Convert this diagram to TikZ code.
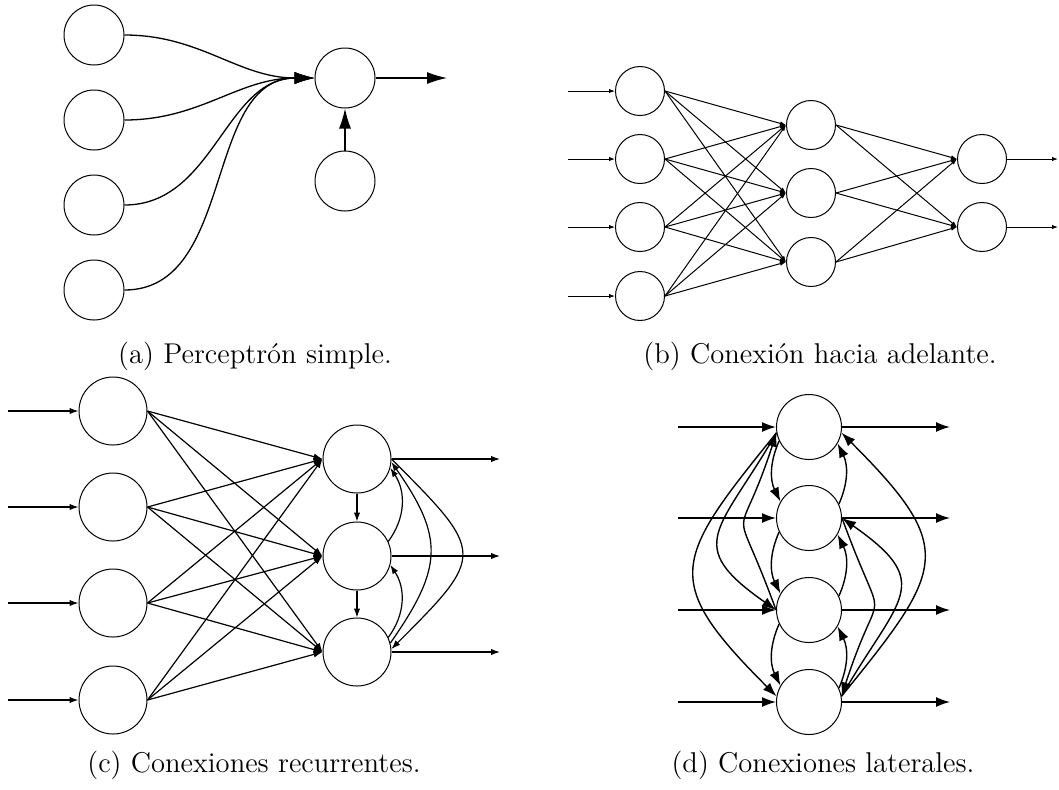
\documentclass[tikz,border=0pt]{standalone}
\usepackage{tikz}
\usetikzlibrary{arrows.meta}

\begin{document}
\begin{tikzpicture}[x=0.5pt, y=-0.5pt,
    neuron/.style={circle, draw, line width=0.5pt, inner sep=0pt, minimum size=#1},
    subcap/.style={font=\fontsize{14.3}{17}\selectfont, inner sep=0pt}]
  \useasboundingbox (0,0) rectangle (1059,789);

  % (a) Perceptron simple
  \begin{scope}[line width=0.65pt, >={Latex[length=10pt,width=6pt]}]
    \foreach \y [count=\i] in {35,120,205,290}
      \node[neuron=30pt] (a\i) at (94,\y) {};
    \node[neuron=30pt] (an) at (345,78) {};
    \node[neuron=30pt] (ab) at (345,181) {};
    \foreach \i in {1,...,4}
      \draw[->] (a\i.east) to[out=0, in=180] (an.west);
    \draw[->] (ab.north) -- (an.south);
    \coordinate (aout) at (447,78);
    \draw[->] (an.east) -- (aout);
  \end{scope}
  \node[subcap] (capa) at (255,356) {(a) Perceptrón simple.};

  % (b) Conexion hacia adelante
  \begin{scope}[line width=0.5pt, >={Latex[length=3pt,width=2.2pt]}]
    \foreach \y [count=\i] in {91,159,227,296} {
      \node[neuron=24.5pt] (bi\i) at (640,\y) {};
      \coordinate (bin\i) at (568,\y);
      \draw[->] (bin\i) -- (bi\i.west);
    }
    \foreach \y [count=\j] in {125,193,262}
      \node[neuron=24.5pt] (bh\j) at (811,\y) {};
    \foreach \y [count=\k] in {159,227} {
      \node[neuron=24.5pt] (bo\k) at (982,\y) {};
      \coordinate (bout\k) at (1058,\y);
      \draw[->] (bo\k.east) -- (bout\k);
    }
    \foreach \i in {1,...,4}
      \foreach \j in {1,2,3}
        \draw[->] (bi\i.east) -- (bh\j.west);
    \foreach \j in {1,2,3}
      \foreach \k in {1,2}
        \draw[->] (bh\j.east) -- (bo\k.west);
  \end{scope}
  \node[subcap] (capb) at (820,356) {(b) Conexión hacia adelante.};

  % (c) Conexiones recurrentes
  \begin{scope}[line width=0.6pt, >={Latex[length=4.5pt,width=3.2pt]}]
    \foreach \y [count=\i] in {411,507,603,700} {
      \node[neuron=34pt] (ci\i) at (113,\y) {};
      \coordinate (cin\i) at (8,\y);
      \draw[->] (cin\i) -- (ci\i.west);
    }
    \foreach \y [count=\j] in {459,556,652} {
      \node[neuron=34pt] (co\j) at (357,\y) {};
      \coordinate (cout\j) at (500,\y);
      \draw[->] (co\j.east) -- (cout\j);
    }
    \foreach \i in {1,...,4}
      \foreach \j in {1,2,3}
        \draw[->] (ci\i.east) -- (co\j.west);
    % recurrent links
    \draw[->] (co1.south) -- (co2.north);
    \draw[->] (co2.south) -- (co3.north);
    \draw[->] (co2.25) to[bend right=35] (co1.-15);
    \draw[->] (co3.25) to[bend right=35] (co2.-15);
    \draw[->] (co3.15) to[out=55, in=-55, looseness=1.3] (co1.-5);
    \draw[->] (co1.0) to[out=-45, in=45, looseness=1.8] (co3.5);
  \end{scope}
  \node[subcap] (capc) at (254,765) {(c) Conexiones recurrentes.};

  % (d) Conexiones laterales
  \begin{scope}[line width=0.7pt, >={Latex[length=7pt,width=5pt]}]
    \foreach \y [count=\i] in {427,518,610,702} {
      \node[neuron=32.5pt] (d\i) at (809,\y) {};
      \coordinate (din\i) at (678,\y);
      \coordinate (dout\i) at (950,\y);
      \draw[->] (din\i) -- (d\i.west);
      \draw[->] (d\i.east) -- (dout\i);
    }
    % neighbours
    \foreach \i/\j in {1/2,2/3,3/4} {
      \draw[->] (d\i.205) to[bend right=25] (d\j.150);
      \draw[->] (d\j.25) to[bend right=25] (d\i.-30);
    }
    % long range
    \draw[->] (d1.190) to[out=-129, in=135, looseness=1.6] (d4.170);
    \draw[->] (d1.190) to[out=-120, in=145, looseness=1.65] (d3.180);
    \draw[->] (d3.180) to[out=110, in=-108, looseness=1.9] (d1.190);
    \draw[->] (d4.10) to[out=51, in=-45, looseness=1.6] (d1.350);
    \draw[->] (d4.10) to[out=60, in=-35, looseness=1.65] (d2.0);
    \draw[->] (d2.0) to[out=-70, in=72, looseness=1.9] (d4.10);
  \end{scope}
  \node[subcap] (capd) at (823,765) {(d) Conexiones laterales.};
\end{tikzpicture}
\end{document}
